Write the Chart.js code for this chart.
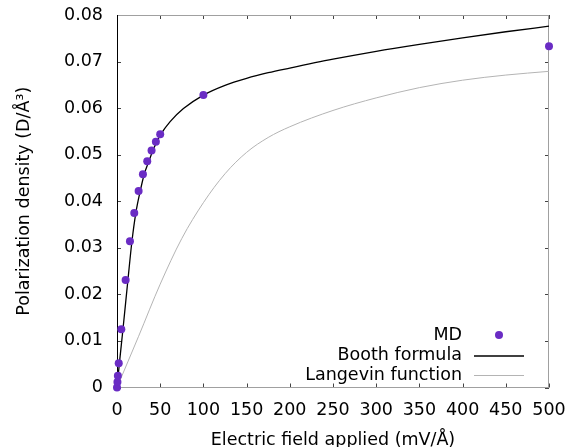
<!DOCTYPE html>
<html><head><meta charset="utf-8">
<script src="https://cdn.jsdelivr.net/npm/chart.js@4"></script>
<style>html,body{margin:0;padding:0;background:#fff}#wrap{width:569px;height:447px}</style>
</head><body><div id="wrap"><canvas id="c" width="569" height="447"></canvas></div>
<script>
// MD simulation points
const mdField = [0, 0.5, 1, 2, 5, 10, 15, 20, 25, 30, 35, 40, 45, 50, 100, 500];
const mdPolarization = [0, 0.0012, 0.0025, 0.0052, 0.0125, 0.0231, 0.0314, 0.0375, 0.0422, 0.0458, 0.0486, 0.0509, 0.0528, 0.0544, 0.0628, 0.0733];
// Booth formula curve
const boothField = [0, 3, 6.9, 12.7, 17.3, 21.9, 26.9, 31.5, 36.9, 41.5, 46.2, 50.8, 61.5, 76.9, 100, 125, 150, 175, 200, 250, 300, 350, 400, 450, 500];
const boothPolarization = [0, 0.0056, 0.0125, 0.0232, 0.0314, 0.0376, 0.0422, 0.0458, 0.0486, 0.0509, 0.0528, 0.0544, 0.0571, 0.0599, 0.0628, 0.0649, 0.0664, 0.0676, 0.0686, 0.0705, 0.0722, 0.0737, 0.0751, 0.0764, 0.0776];
// Langevin function curve
const langevinField = [0, 25, 50, 75, 100, 125, 150, 175, 200, 250, 300, 350, 400, 450, 500];
const langevinPolarization = [0, 0.0110, 0.0222, 0.0320, 0.0397, 0.0459, 0.0505, 0.0537, 0.0560, 0.0595, 0.0622, 0.0644, 0.0660, 0.0671, 0.0679];
const xTickLabels = ['0','50','100','150','200','250','300','350','400','450','500'];
const yTickLabels = ['0','0.01','0.02','0.03','0.04','0.05','0.06','0.07','0.08'];
const seriesLabels = ['MD', 'Booth formula', 'Langevin function'];

const FONT = 'DejaVu Sans';
const FS = 17.5;
Chart.defaults.font.family = FONT;
Chart.defaults.font.size = FS;
Chart.defaults.color = '#000';

const toPts = (xs, ys) => xs.map((x, i) => ({x, y: ys[i]}));

const framePlugin = {
  id: 'frame',
  beforeDatasetsDraw(chart) {
    const {ctx, chartArea: a, scales: {x, y}} = chart;
    ctx.save();
    ctx.lineWidth = 1;
    ctx.strokeStyle = '#444';
    const tl = 4;
    ctx.beginPath();
    x.ticks.forEach(t => {
      const px = Math.round(x.getPixelForValue(t.value)) + 0.5;
      ctx.moveTo(px, a.bottom); ctx.lineTo(px, a.bottom - tl);
      ctx.moveTo(px, a.top); ctx.lineTo(px, a.top + tl);
    });
    y.ticks.forEach(t => {
      const py = Math.round(y.getPixelForValue(t.value)) + 0.5;
      ctx.moveTo(a.left, py); ctx.lineTo(a.left + tl, py);
      ctx.moveTo(a.right, py); ctx.lineTo(a.right - tl, py);
    });
    ctx.stroke();
    ctx.strokeStyle = '#a0a0a0';
    ctx.beginPath();
    ctx.moveTo(a.left, Math.round(a.top) + 0.5); ctx.lineTo(a.right, Math.round(a.top) + 0.5);
    ctx.moveTo(Math.round(a.right) - 0.5, a.top); ctx.lineTo(Math.round(a.right) - 0.5, a.bottom);
    ctx.moveTo(a.left, Math.round(a.bottom) - 0.5); ctx.lineTo(a.right, Math.round(a.bottom) - 0.5);
    ctx.stroke();
    ctx.strokeStyle = '#000';
    ctx.beginPath();
    ctx.moveTo(Math.round(a.left) + 0.5, a.top); ctx.lineTo(Math.round(a.left) + 0.5, a.bottom);
    ctx.stroke();
    ctx.restore();
  }
};

const legendPlugin = {
  id: 'keybox',
  afterDraw(chart) {
    const {ctx} = chart;
    const ds = chart.data.datasets;
    const textRight = 462, symL = 474, symR = 524, symC = 499;
    const rows = [335, 355.5, 375];
    ctx.save();
    ctx.font = FS + 'px "' + FONT + '"';
    ctx.textAlign = 'right';
    ctx.textBaseline = 'middle';
    ds.forEach((d, i) => {
      const yy = rows[i];
      ctx.fillStyle = '#000';
      ctx.fillText(d.label, textRight, yy);
      if (d.showLine) {
        ctx.strokeStyle = d.borderColor;
        ctx.lineWidth = d.borderWidth;
        ctx.beginPath(); ctx.moveTo(symL, yy + 0.5); ctx.lineTo(symR, yy + 0.5); ctx.stroke();
      } else {
        ctx.fillStyle = d.backgroundColor;
        ctx.beginPath(); ctx.arc(symC, yy, d.pointRadius, 0, Math.PI * 2); ctx.fill();
      }
    });
    ctx.restore();
  }
};

new Chart(document.getElementById('c'), {
  type: 'scatter',
  data: {
    datasets: [
      { label: seriesLabels[0], data: toPts(mdField, mdPolarization), showLine: false,
        backgroundColor: '#6a2cc4', borderColor: '#6a2cc4', pointRadius: 4, pointBorderWidth: 0, clip: false, order: 0 },
      { label: seriesLabels[1], data: toPts(boothField, boothPolarization), showLine: true,
        borderColor: '#000', backgroundColor: '#000', borderWidth: 1.3, pointRadius: 0, cubicInterpolationMode: 'monotone', order: 1 },
      { label: seriesLabels[2], data: toPts(langevinField, langevinPolarization), showLine: true,
        borderColor: '#b4b4b4', backgroundColor: '#b4b4b4', borderWidth: 1, pointRadius: 0, cubicInterpolationMode: 'monotone', order: 2 }
    ]
  },
  options: {
    responsive: false,
    animation: false,
    devicePixelRatio: 1,
    layout: { padding: { left: 0, right: 20, top: 15, bottom: 0 } },
    plugins: { legend: { display: false }, tooltip: { enabled: false } },
    scales: {
      x: {
        type: 'linear', min: 0, max: 500,
        afterFit: s => { s.height = 59.5; s.paddingRight = 0; s.paddingLeft = 0; },
        grid: { display: false, drawTicks: false },
        border: { display: false },
        ticks: { stepSize: 50, padding: 12, autoSkip: false, maxRotation: 0,
          callback: (v, i) => xTickLabels[i] },
        title: { display: true, text: 'Electric field applied (mV/Å)', font: { size: FS, lineHeight: 0.7 }, padding: { top: 0, bottom: 0 } }
      },
      y: {
        type: 'linear', min: 0, max: 0.08,
        afterFit: s => { s.width = 117; s.paddingTop = 0; s.paddingBottom = 0; },
        grid: { display: false, drawTicks: false },
        border: { display: false },
        ticks: { stepSize: 0.01, padding: 14, autoSkip: false,
          callback: (v, i) => yTickLabels[i] },
        title: { display: true, text: 'Polarization density (D/Å³)', font: { size: FS, lineHeight: 1 }, padding: { top: 16, bottom: 0 } }
      }
    }
  },
  plugins: [framePlugin, legendPlugin]
});
</script></body></html>
